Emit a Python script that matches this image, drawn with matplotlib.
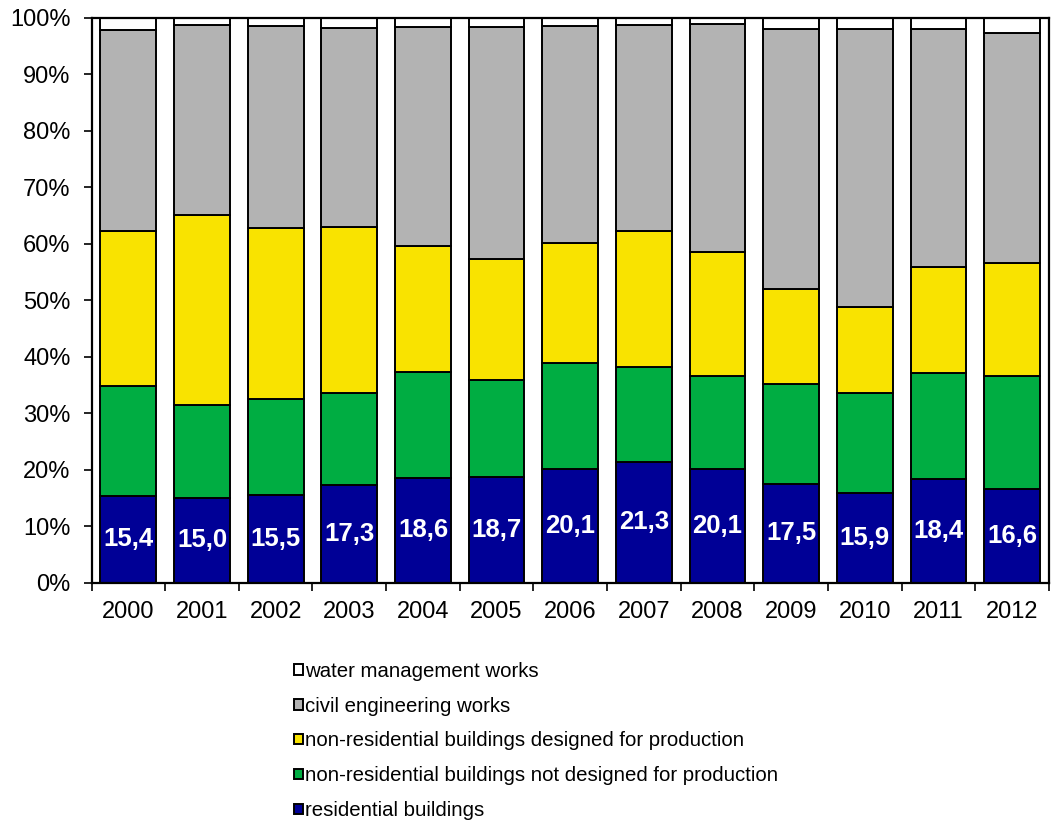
import matplotlib
matplotlib.use("Agg")
from matplotlib import pyplot as plt
import numpy as np

plt.rcParams['font.family'] = ['Liberation Sans', 'DejaVu Sans']

# ===================== data =====================
years = ['2000', '2001', '2002', '2003', '2004', '2005', '2006',
         '2007', '2008', '2009', '2010', '2011', '2012']
residential = [15.4, 15.0, 15.5, 17.3, 18.6, 18.7, 20.1, 21.3, 20.1, 17.5, 15.9, 18.4, 16.6]
nonres_not_prod = [19.4, 16.4, 17.0, 16.2, 18.6, 17.1, 18.8, 16.8, 16.4, 17.6, 17.6, 18.7, 19.9]
nonres_prod = [27.5, 33.7, 30.3, 29.4, 22.4, 21.5, 21.2, 24.1, 22.0, 16.9, 15.3, 18.8, 20.0]
civil = [35.5, 33.5, 35.7, 35.3, 38.7, 41.0, 38.4, 36.5, 40.3, 45.9, 49.2, 42.1, 40.7]
water = [2.2, 1.4, 1.5, 1.8, 1.7, 1.7, 1.5, 1.3, 1.2, 2.1, 2.0, 2.0, 2.8]

series = [
    ('residential buildings', residential, '#000096'),
    ('non-residential buildings not designed for production', nonres_not_prod, '#00AD42'),
    ('non-residential buildings designed for production', nonres_prod, '#F9E300'),
    ('civil engineering works', civil, '#B3B3B3'),
    ('water management works', water, '#FFFFFF'),
]

# ===================== plot =====================
fig = plt.figure(figsize=(10.51, 8.26), dpi=100)
ax = fig.add_axes([0.0871, 0.2946, 0.911, 0.6842])

x = np.arange(len(years))
bottom = np.zeros(len(years))
handles = []
for name, vals, col in series:
    bars = ax.bar(x, vals, bottom=bottom, width=0.757, color=col,
                  edgecolor='black', linewidth=1.4, label=name)
    handles.append(bars)
    bottom += np.array(vals)

# labels in residential segment
for xi, v in zip(x, residential):
    ax.text(xi, v / 2, f"{v:.1f}".replace('.', ','), ha='center', va='center',
            color='white', fontsize=18.5, fontweight='bold')

ax.set_xlim(-0.5, len(years) - 0.5)
ax.set_ylim(0, 100)
ax.set_yticks(np.arange(0, 101, 10))
ax.set_yticklabels([f"{v}%" for v in range(0, 101, 10)], fontsize=17)

# ticks between categories, labels at centres
ax.set_xticks(np.arange(-0.5, len(years), 1.0))
ax.set_xticklabels([])
ax.set_xticks(x, minor=True)
ax.set_xticklabels(years, minor=True, fontsize=17)
ax.tick_params(axis='x', which='major', length=5.5, width=1.2, direction='out')
ax.tick_params(axis='x', which='minor', length=0, pad=13.5)
ax.tick_params(axis='y', length=6, width=1.2, direction='out', pad=9)

for s in ax.spines.values():
    s.set_linewidth(1.6)

fig.legend(handles[::-1], [s[0] for s in series][::-1], loc='upper left',
           bbox_to_anchor=(0.2797, 0.199), frameon=False, fontsize=14.7,
           handlelength=0.42, handleheight=0.42, handletextpad=0.12,
           labelspacing=0.78, borderpad=0, borderaxespad=0)

plt.savefig('out.png', dpi=100)
plt.close()
